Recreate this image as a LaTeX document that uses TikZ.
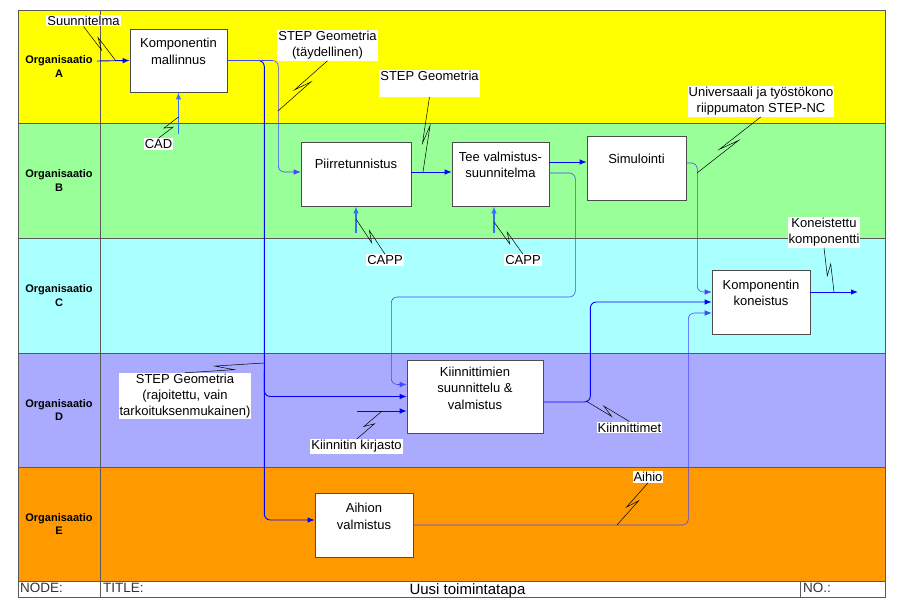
\documentclass[tikz,border=0pt]{standalone}
\usepackage{fontspec}
\setmainfont{Liberation Sans}
\usetikzlibrary{arrows.meta,calc}

\definecolor{laneA}{RGB}{255,255,0}
\definecolor{laneB}{RGB}{153,255,153}
\definecolor{laneC}{RGB}{170,255,255}
\definecolor{laneD}{RGB}{170,170,255}
\definecolor{laneE}{RGB}{255,153,0}
\definecolor{flowblue}{RGB}{0,0,255}
\definecolor{thinblue}{RGB}{70,70,255}
\definecolor{mechblue}{RGB}{50,110,255}

\newcommand{\orgfont}{\fontsize{11}{13.5}\selectfont\bfseries}
\newcommand{\boxfont}{\fontsize{13}{16.5}\selectfont}
\newcommand{\tagfont}{\fontsize{13}{16}\selectfont}
\newcommand{\barfont}{\fontsize{13.5}{14}\selectfont}

% zigzag from a label to its line
\newcommand{\squig}[2]{%
  \coordinate (sqa) at ($(#1)!0.62!(#2)$);
  \coordinate (sqb) at ($(#1)!0.38!(#2)$);
  \draw[squigline] (#1) -- ($(sqa)!3pt!90:(#2)$) -- ($(sqb)!3pt!-90:(#2)$) -- (#2);}

\begin{document}
\begin{tikzpicture}[x=1pt,y=1pt,yscale=-1,
  lane/.style={draw=black!65,line width=0.8pt},
  orgtext/.style={align=center,font=\orgfont,inner sep=0pt},
  box/.style={draw=black!70,fill=white,line width=0.6pt,minimum height=64pt,inner sep=0pt},
  boxtext/.style={align=center,font=\boxfont,inner sep=0pt},
  tag/.style={fill=white,align=center,font=\tagfont,inner sep=1pt},
  bartext/.style={font=\barfont,text=black!80,inner sep=0pt},
  flow/.style={draw=flowblue,line width=0.9pt,rounded corners=6pt,-{Latex[length=7pt,width=5.5pt]}},
  thinflow/.style={flow,draw=thinblue,line width=0.6pt},
  mech/.style={flow,draw=mechblue,line width=1.6pt},
  squigline/.style={draw=black,line width=0.5pt}]
\useasboundingbox (0,0) rectangle (903,615);

% lanes
\fill[laneA] (18,10) rectangle (885,123);
\fill[laneB] (18,123) rectangle (885,238);
\fill[laneC] (18,238) rectangle (885,353);
\fill[laneD] (18,353) rectangle (885,467);
\fill[laneE] (18,467) rectangle (885,581);
\fill[white] (18,581) rectangle (885,597);
\foreach \y in {123,238,353,467,581} \draw[lane] (18,\y) -- (885,\y);
\draw[lane] (100,10) -- (100,597);
\draw[lane] (800,581) -- (800,597);
\draw[lane] (18,10) rectangle (885,597);

\foreach \l/\y in {A/66.5,B/180.5,C/295.5,D/410,E/524}
  \node[orgtext] (org\l) at (59,\y) {Organisaatio\\\l};

% title bar
\node[bartext,anchor=base west] (node) at (20,592) {NODE:};
\node[bartext,anchor=base west] (title) at (103,592) {TITLE:};
\node[bartext,anchor=base,font=\fontsize{15}{15}\selectfont,text=black] (tname) at (467.5,594) {Uusi toimintatapa};
\node[bartext,anchor=base west] (no) at (803,592) {NO.:};

% activity boxes
\node[box,minimum width=97pt,minimum height=63pt] (mall) at (178.5,60.5) {};
\node[boxtext] (mallt) at ($(mall)+(0,-9)$) {Komponentin\\mallinnus};
\node[box,minimum width=110pt] (pii) at (356,174) {};
\node[boxtext] (piit) at ($(pii)+(0,-10)$) {Piirretunnistus};
\node[box,minimum width=97pt] (tee) at (500.5,174) {};
\node[boxtext] (teet) at ($(tee)+(0,-9)$) {Tee valmistus-\\suunnitelma};
\node[box,minimum width=99pt] (sim) at (636.5,168) {};
\node[boxtext] (simt) at ($(sim)+(0,-9)$) {Simulointi};
\node[box,minimum width=98pt] (kon) at (761,302) {};
\node[boxtext] (kont) at ($(kon)+(0,-9)$) {Komponentin\\koneistus};
\node[box,minimum width=136pt,minimum height=73pt] (kii) at (475,396.5) {};
\node[boxtext] (kiit) at ($(kii)+(0,-8.5)$) {Kiinnittimien\\suunnittelu \&\\valmistus};
\node[box,minimum width=98pt] (aih) at (364,525) {};
\node[boxtext] (aiht) at ($(aih)+(0,-8.5)$) {Aihion\\valmistus};

% free ends
\coordinate (suuIn) at (97,61);
\coordinate (cadIn) at (178.5,134);
\coordinate (capp1In) at (356,233);
\coordinate (capp2In) at (494,233);
\coordinate (kkIn) at (357,411);
\coordinate (konOut) at (858,292);

% connectors
\draw[flow] (suuIn) -- (mall.west);
\draw[mech] (cadIn) -- (mall.south);
\draw[flow] (mall.east) -- ++(37,0) |- ($(aih.west)+(0,-5)$);
\draw[flow] ($(mall.east)+(37,310)$) |- (kii.west);
\draw[thinflow] (mall.east) -- ++(51,0) |- ($(pii.west)+(0,-2)$);
\draw[flow] ($(pii.east)+(0,-2)$) -- ($(tee.west)+(0,-2)$);
\draw[mech] (capp1In) -- (pii.south);
\draw[mech] (capp2In) -- (capp2In |- tee.south);
\draw[flow] ($(tee.east)+(0,-12)$) -- ($(sim.west)+(0,-6)$);
\draw[thinflow] ($(tee.east)+(0,-1)$) -- ++(26,0) |- ++(-184,124) |- ($(kii.west)+(0,-12)$);
\draw[thinflow] ($(sim.east)+(0,-5)$) -- ++(11,0) |- ($(kon.west)+(0,-10)$);
\draw[flow] ($(kon.east)+(0,-10)$) -- (konOut);
\draw[flow] (kkIn) -- (kkIn -| kii.west);
\draw[flow] ($(kii.east)+(0,5.5)$) -- ++(47,0) |- (kon.west);
\draw[thinflow] (aih.east) -- ++(275,0) |- ($(kon.west)+(0,11)$);

% squiggle ends
\coordinate (sqSuu) at (116,61);
\coordinate (sqCad) at (178.5,117);
\coordinate (sqStepT) at (278,111);
\coordinate (sqStep) at (423,172);
\coordinate (sqUniv) at (697,173);
\coordinate (sqKom) at (834,292);
\coordinate (sqStepR) at (264,363);
\coordinate (sqKk) at (382,411);
\coordinate (sqCapp1) at (356,219);
\coordinate (sqCapp2) at (494,222);
\coordinate (sqKiim) at (586,401);
\coordinate (sqAihio) at (617,525);

% Text Node
\node[tag] (suu) at (83.5,20.5) {Suunnitelma};
\node[tag] (cad) at (158.5,144) {CAD};
\node[tag] (stepT) at (327.5,45.5) {STEP Geometria\\(täydellinen)};
\node[tag,anchor=north,text depth=15pt] (step) at (429.5,70) {STEP Geometria};
\node[tag] (univ) at (761,101.5) {Universaali ja työstökono\\riippumaton STEP-NC};
\node[tag] (kom) at (824,232.5) {Koneistettu\\komponentti};
\node[tag] (capp1) at (385,260) {CAPP};
\node[tag] (capp2) at (523,260) {CAPP};
\node[tag] (stepR) at (185,396) {STEP Geometria\\(rajoitettu, vain\\tarkoituksenmukainen)};
\node[tag] (kk) at (356.5,446.5) {Kiinnitin kirjasto};
\node[tag] (kiim) at (629.5,427.5) {Kiinnittimet};
\node[tag] (aihio) at (648,477) {Aihio};

\squig{suu.south}{sqSuu}
\squig{cad.north}{sqCad}
\squig{stepT.south}{sqStepT}
\squig{step.south}{sqStep}
\squig{univ.south}{sqUniv}
\squig{kom.south}{sqKom}
\squig{stepR.north}{sqStepR}
\squig{kk.north}{sqKk}
\squig{capp1.north}{sqCapp1}
\squig{capp2.north}{sqCapp2}
\squig{kiim.north}{sqKiim}
\squig{aihio.south}{sqAihio}
\end{tikzpicture}
\end{document}
